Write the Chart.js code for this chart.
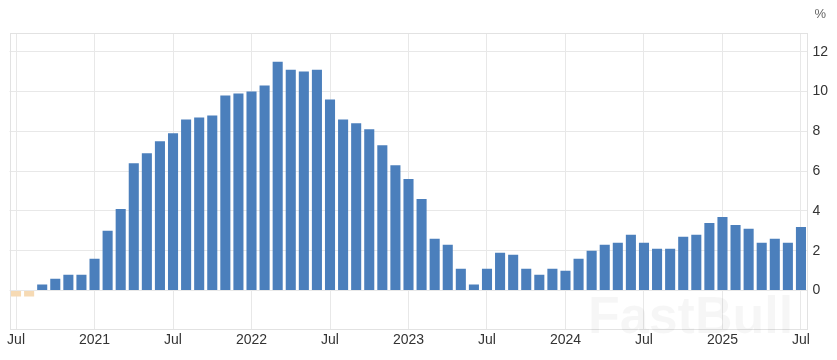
<!DOCTYPE html>
<html>
<head>
<meta charset="utf-8">
<script src="https://cdn.jsdelivr.net/npm/chart.js@4"></script>
<style>
  html, body { margin: 0; padding: 0; background: #ffffff; }
  #wrap { width: 837px; height: 360px; position: relative; }
</style>
</head>
<body>
<div id="wrap"><canvas id="c"></canvas></div>
<script>
// Categories: monthly, Jul 2020 .. Jul 2025
const months = [
  "2020-07","2020-08","2020-09","2020-10","2020-11","2020-12",
  "2021-01","2021-02","2021-03","2021-04","2021-05","2021-06",
  "2021-07","2021-08","2021-09","2021-10","2021-11","2021-12",
  "2022-01","2022-02","2022-03","2022-04","2022-05","2022-06",
  "2022-07","2022-08","2022-09","2022-10","2022-11","2022-12",
  "2023-01","2023-02","2023-03","2023-04","2023-05","2023-06",
  "2023-07","2023-08","2023-09","2023-10","2023-11","2023-12",
  "2024-01","2024-02","2024-03","2024-04","2024-05","2024-06",
  "2024-07","2024-08","2024-09","2024-10","2024-11","2024-12",
  "2025-01","2025-02","2025-03","2025-04","2025-05","2025-06",
  "2025-07"
];

// Series values (%)
const values = [
  -0.3, -0.3, 0.3, 0.6, 0.8, 0.8,
  1.6, 3.0, 4.1, 6.4, 6.9, 7.5,
  7.9, 8.6, 8.7, 8.8, 9.8, 9.9,
  10.0, 10.3, 11.5, 11.1, 11.0, 11.1,
  9.6, 8.6, 8.4, 8.1, 7.3, 6.3,
  5.6, 4.6, 2.6, 2.3, 1.1, 0.3,
  1.1, 1.9, 1.8, 1.1, 0.8, 1.1,
  1.0, 1.6, 2.0, 2.3, 2.4, 2.8,
  2.4, 2.1, 2.1, 2.7, 2.8, 3.4,
  3.7, 3.3, 3.1, 2.4, 2.6, 2.4,
  3.2
];

// Tick labels on the x axis (keyed by category)
const xTickLabels = {
  "2020-07": "Jul", "2021-01": "2021", "2021-07": "Jul",
  "2022-01": "2022", "2022-07": "Jul", "2023-01": "2023",
  "2023-07": "Jul", "2024-01": "2024", "2024-07": "Jul",
  "2025-01": "2025", "2025-07": "Jul"
};

// Y tick values
const yTicks = [0, 2, 4, 6, 8, 10, 12];

const unitLabel = "%";
const watermark = "FastBull";

const BLUE = "#4b7fbc";
const NEG = "#f6dab4";
const GRID = "#e8e8e8";
const TEXT = "#333333";
const FONT = "'Liberation Sans', Arial, sans-serif";

const framePlugin = {
  id: "frame",
  beforeDatasetsDraw(chart) {
    const a = chart.chartArea, ctx = chart.ctx;
    ctx.save();
    ctx.strokeStyle = "#e2e2e2";
    ctx.lineWidth = 1;
    ctx.strokeRect(Math.round(a.left) + 0.5, Math.round(a.top) + 0.5,
                   Math.round(a.right - a.left) - 1, Math.round(a.bottom - a.top));
    ctx.restore();
  },
  afterDraw(chart) {
    const ctx = chart.ctx, a = chart.chartArea;
    ctx.save();
    ctx.fillStyle = "#666666";
    ctx.font = "13px " + FONT;
    ctx.textAlign = "left";
    ctx.textBaseline = "middle";
    ctx.fillText(unitLabel, a.right + 7, 14);
    // faint watermark
    ctx.font = "bold 52px " + FONT;
    ctx.textAlign = "left";
    ctx.textBaseline = "alphabetic";
    ctx.fillStyle = "rgba(0,0,0,0.035)";
    ctx.fillText(watermark, 588, 333);
    ctx.restore();
  }
};

new Chart(document.getElementById("c"), {
  type: "bar",
  data: {
    labels: months,
    datasets: [{
      data: values,
      backgroundColor: values.map(v => v < 0 ? NEG : BLUE),
      borderWidth: 0,
      categoryPercentage: 1.0,
      barPercentage: 0.77
    }]
  },
  options: {
    responsive: true,
    maintainAspectRatio: false,
    animation: false,
    layout: { padding: { top: 33, left: 9.5, right: 0, bottom: 0 } },
    plugins: {
      legend: { display: false },
      tooltip: { enabled: false }
    },
    scales: {
      x: {
        type: "category",
        offset: true,
        grid: {
          offset: false,
          drawTicks: false,
          color: ctx => (ctx.tick && xTickLabels[months[ctx.tick.value]]) ? GRID : "rgba(0,0,0,0)"
        },
        border: { display: false },
        ticks: {
          autoSkip: false,
          maxRotation: 0,
          padding: 3,
          color: TEXT,
          font: { family: FONT, size: 14 },
          callback: function (val) { return xTickLabels[months[val]] || ""; }
        },
        afterFit: s => { s.height = 31; }
      },
      y: {
        position: "right",
        min: -1.93,
        max: 12.94,
        afterBuildTicks: s => { s.ticks = yTicks.map(v => ({ value: v })); },
        grid: { drawTicks: false, color: GRID },
        border: { display: false },
        ticks: {
          padding: 5,
          color: TEXT,
          font: { family: FONT, size: 14 },
          callback: v => String(v)
        },
        afterFit: s => { s.width = 29.5; }
      }
    }
  },
  plugins: [framePlugin]
});
</script>
</body>
</html>
